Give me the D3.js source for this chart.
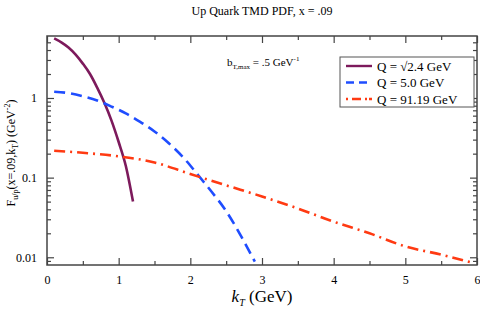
<!DOCTYPE html>
<html>
<head>
<meta charset="utf-8">
<script src="https://cdn.jsdelivr.net/npm/d3@7"></script>
<style>
  body { margin: 0; background: #fff; }
  svg { font-family: "Liberation Serif", "Times New Roman", serif; }
</style>
</head>
<body>
<svg id="canvas" width="480" height="309"></svg>
<script>
// k_T values (GeV) and TMD values for each Q
let kLow = [0.1, 0.2, 0.3, 0.4, 0.5, 0.6, 0.7, 0.8, 0.9, 1.0, 1.1, 1.2];
let fLow = [5.6, 5.0, 4.3, 3.5, 2.7, 2.0, 1.35, 0.87, 0.52, 0.28, 0.14, 0.05];

let kMid = [0.1, 0.3, 0.5, 0.7, 0.9, 1.1, 1.3, 1.5, 1.7, 1.9, 2.1, 2.3, 2.5, 2.7, 2.9];
let fMid = [1.2, 1.15, 1.05, 0.93, 0.78, 0.64, 0.50, 0.38, 0.27, 0.18, 0.11, 0.066, 0.038, 0.019, 0.0088];

let kHigh = [0.1, 0.5, 1.0, 1.5, 2.0, 2.5, 3.0, 3.5, 4.0, 4.5, 5.0, 5.5, 5.9];
let fHigh = [0.218, 0.205, 0.185, 0.155, 0.111, 0.08, 0.058, 0.041, 0.028, 0.02, 0.0137, 0.0108, 0.0087];

let seriesNames = ["Q = \u221A2.4 GeV", "Q = 5.0 GeV", "Q = 91.19 GeV"];
let seriesColors = ["#7d1a5c", "#1f4dff", "#ff3a12"];
let seriesDash = ["none", "11,6", "11,5,2,5"];

let xTicks = [0, 1, 2, 3, 4, 5, 6];
let xMinor = [0.5, 1.5, 2.5, 3.5, 4.5, 5.5];
let yTicks = [0.01, 0.1, 1];
let yTickLabels = ["0.01", "0.1", "1"];

let canvas = d3.select("#canvas");

let plotLeft = 47, plotRight = 477, plotTop = 36, plotBottom = 265;

let xScale = d3.scaleLinear().domain([0, 6]).range([plotLeft, plotRight]);
let yScale = d3.scaleLog().domain([0.008, 6]).range([plotBottom, plotTop]);

let yMinor = [];
[0.001, 0.01, 0.1, 1].forEach((d) => {
    for (let i = 2; i <= 9; i++) {
        let v = d * i;
        if (v > 0.0081 && v < 5.9) yMinor.push(v);
    }
});

let axisColor = "#444";

// title
canvas.append("text")
    .attr("x", 262).attr("y", 15)
    .attr("text-anchor", "middle")
    .attr("font-size", 12)
    .text("Up Quark TMD PDF, x = .09");

// curves
let allSeries = [
    kLow.map((k, i) => [k, fLow[i]]),
    kMid.map((k, i) => [k, fMid[i]]),
    kHigh.map((k, i) => [k, fHigh[i]])
];

let line = d3.line()
    .x((d) => xScale(d[0]))
    .y((d) => yScale(d[1]))
    .curve(d3.curveMonotoneX);

canvas.append("defs").append("clipPath").attr("id", "clip")
    .append("rect").attr("x", plotLeft).attr("y", plotTop)
    .attr("width", plotRight - plotLeft).attr("height", plotBottom - plotTop);

canvas.append("g").attr("clip-path", "url(#clip)")
    .selectAll("path")
    .data(allSeries)
    .enter()
    .append("path")
    .attr("d", line)
    .attr("fill", "none")
    .attr("stroke", (d, i) => seriesColors[i])
    .attr("stroke-width", 2.6)
    .attr("stroke-dasharray", (d, i) => seriesDash[i]);

// axes, ticks pointing inward on all four sides
let styleAxis = (g) => {
    g.select(".domain").remove();
    g.selectAll("line").attr("stroke", axisColor).attr("stroke-width", 1.2);
    g.selectAll("text").attr("font-family", "Liberation Serif").attr("font-size", 12).attr("fill", "#000");
};

canvas.append("g").attr("transform", `translate(0,${plotBottom})`)
    .call(d3.axisBottom(xScale).tickValues(xTicks).tickSizeInner(-7).tickSizeOuter(0).tickPadding(10).tickFormat(d3.format("d")))
    .call(styleAxis);
canvas.append("g").attr("transform", `translate(0,${plotBottom})`)
    .call(d3.axisBottom(xScale).tickValues(xMinor).tickSizeInner(-4).tickSizeOuter(0).tickFormat(""))
    .call(styleAxis);
canvas.append("g").attr("transform", `translate(0,${plotTop})`)
    .call(d3.axisTop(xScale).tickValues(xTicks).tickSizeInner(-7).tickSizeOuter(0).tickFormat(""))
    .call(styleAxis);
canvas.append("g").attr("transform", `translate(0,${plotTop})`)
    .call(d3.axisTop(xScale).tickValues(xMinor).tickSizeInner(-4).tickSizeOuter(0).tickFormat(""))
    .call(styleAxis);

canvas.append("g").attr("transform", `translate(${plotLeft},0)`)
    .call(d3.axisLeft(yScale).tickValues(yTicks).tickSizeInner(-7).tickSizeOuter(0).tickPadding(10)
        .tickFormat((d, i) => yTickLabels[i]))
    .call(styleAxis);
canvas.append("g").attr("transform", `translate(${plotLeft},0)`)
    .call(d3.axisLeft(yScale).tickValues(yMinor).tickSizeInner(-4).tickSizeOuter(0).tickFormat(""))
    .call(styleAxis);
canvas.append("g").attr("transform", `translate(${plotRight},0)`)
    .call(d3.axisRight(yScale).tickValues(yTicks).tickSizeInner(-7).tickSizeOuter(0).tickFormat(""))
    .call(styleAxis);
canvas.append("g").attr("transform", `translate(${plotRight},0)`)
    .call(d3.axisRight(yScale).tickValues(yMinor).tickSizeInner(-4).tickSizeOuter(0).tickFormat(""))
    .call(styleAxis);

// frame
canvas.append("rect")
    .attr("x", plotLeft).attr("y", plotTop)
    .attr("width", plotRight - plotLeft).attr("height", plotBottom - plotTop)
    .attr("fill", "none").attr("stroke", axisColor).attr("stroke-width", 1.5);

// x label
let xLab = canvas.append("text")
    .attr("x", 262).attr("y", 302)
    .attr("text-anchor", "middle")
    .attr("font-size", 17);
xLab.append("tspan").attr("font-style", "italic").text("k");
xLab.append("tspan").attr("font-size", 10).attr("font-style", "italic").attr("dy", 4).text("T");
xLab.append("tspan").attr("dy", -4).text(" (GeV)");

// y label
let yLab = canvas.append("text")
    .attr("transform", "translate(15,153) rotate(-90)")
    .attr("text-anchor", "middle")
    .attr("font-size", 12);
yLab.append("tspan").text("F");
yLab.append("tspan").attr("font-size", 8).attr("dy", 3).text("u/p");
yLab.append("tspan").attr("dy", -3).text("(x=.09,k");
yLab.append("tspan").attr("font-size", 8).attr("dy", 3).text("T");
yLab.append("tspan").attr("dy", -3).text(") (GeV");
yLab.append("tspan").attr("font-size", 8).attr("dy", -5).text("-2");
yLab.append("tspan").attr("dy", 5).text(")");

// b_T,max annotation
let note = canvas.append("text")
    .attr("x", 227).attr("y", 66)
    .attr("font-size", 11);
note.append("tspan").text("b");
note.append("tspan").attr("font-size", 7).attr("dy", 3).text("T,max");
note.append("tspan").attr("dy", -3).text(" = .5 GeV");
note.append("tspan").attr("font-size", 7).attr("dy", -5).text("-1");

// legend
let legend = canvas.append("g");
legend.append("rect")
    .attr("x", 340).attr("y", 57).attr("width", 134).attr("height", 50)
    .attr("fill", "#fff").attr("stroke", "#555").attr("stroke-width", 1);

let legendRows = legend.selectAll("g.row")
    .data(seriesNames)
    .enter()
    .append("g")
    .attr("class", "row")
    .attr("transform", (d, i) => `translate(0,${66 + i * 16.5})`);

legendRows.append("line")
    .attr("x1", 346).attr("x2", 372)
    .attr("stroke", (d, i) => seriesColors[i])
    .attr("stroke-width", 2.4)
    .attr("stroke-dasharray", (d, i) => i === 2 ? "2,4,9,4,2" : (i === 1 ? "8,5" : "none"));

legendRows.append("text")
    .attr("x", 377).attr("y", 4.5)
    .attr("font-size", 13)
    .text((d) => d);
</script>
</body>
</html>
